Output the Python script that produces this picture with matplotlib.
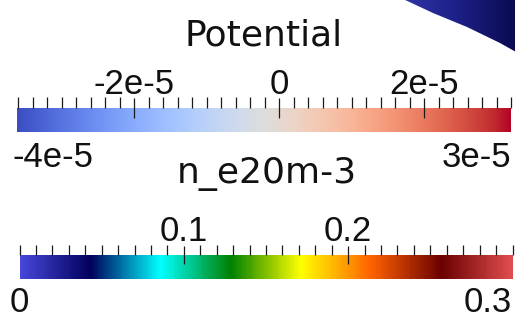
import numpy as np
import matplotlib
matplotlib.use("Agg")
import matplotlib.pyplot as plt
from matplotlib.colors import Normalize, LinearSegmentedColormap
from matplotlib.cm import ScalarMappable
from matplotlib.ticker import FixedLocator, MultipleLocator
from matplotlib.patches import Polygon

# potential scalar bar
pot_title = "Potential"
pot_range = (-3.62e-5, 3.2e-5)
pot_major = [-2e-5, 0.0, 2e-5]
pot_minor_step = 2e-6

# electron density scalar bar
ne_title = "n_e20m-3"
ne_range = (0.0, 0.3)
ne_major = [0.1, 0.2]
ne_minor_step = 0.01

# paraview "Rainbow Desaturated" control points
rainbow_desat = [
    (0.278431, 0.278431, 0.858824),
    (0.0, 0.0, 0.360784),
    (0.0, 1.0, 1.0),
    (0.0, 0.501961, 0.0),
    (1.0, 1.0, 0.0),
    (1.0, 0.380392, 0.0),
    (0.419608, 0.0, 0.0),
    (0.878431, 0.301961, 0.301961),
]
rainbow_cmap = LinearSegmentedColormap.from_list("rainbow_desat", rainbow_desat)

num_font = "Liberation Sans"
title_font = "DejaVu Sans"


def sci_label(v):
    if v == 0:
        return "0"
    m, e = f"{v:.0e}".split("e")
    return f"{m}e{int(e)}"


def dec_label(v):
    return f"{v:g}"


fig = plt.figure(figsize=(5.15, 3.21), dpi=100)
fig.patch.set_facecolor("white")

# pixel-space overlay for titles, range labels and the surface corner
bg = fig.add_axes([0, 0, 1, 1], zorder=0)
bg.set_xlim(0, 515)
bg.set_ylim(321, 0)
bg.axis("off")

# corner of the rendered surface
edge = Polygon([(403, -1), (433, 13), (467, 27), (500, 43), (516, 52), (516, -1)],
               closed=True, facecolor="none", edgecolor="none")
bg.add_patch(edge)
grad = np.linspace(0, 1, 64)[None, :]
corner_cmap = LinearSegmentedColormap.from_list("corner", ["#3137a8", "#1c1f86", "#0a0b50"])
img = bg.imshow(grad, cmap=corner_cmap, extent=(400, 516, 56, -1), aspect="auto",
                interpolation="bilinear")
img.set_clip_path(edge)
bg.set_xlim(0, 515)
bg.set_ylim(321, 0)


def scalar_bar(rect, cmap, vrange, major, minor_step, fmt, maj_len, min_len):
    cax = fig.add_axes(rect, zorder=2)
    sm = ScalarMappable(norm=Normalize(*vrange), cmap=cmap)
    cb = fig.colorbar(sm, cax=cax, orientation="horizontal", ticklocation="top")
    cb.outline.set_visible(False)
    cax.xaxis.set_major_locator(FixedLocator(major))
    cax.xaxis.set_minor_locator(MultipleLocator(minor_step))
    cax.set_xticklabels([fmt(v) for v in major])
    cax.tick_params(axis="x", which="major", direction="inout", length=maj_len,
                    width=0.9, color="#1a1a1a", pad=-2, labelsize=25,
                    top=True, bottom=False, labeltop=True, labelbottom=False)
    cax.tick_params(axis="x", which="minor", direction="out", length=min_len,
                    width=0.9, color="#1a1a1a", top=True, bottom=False)
    for lab in cax.get_xticklabels():
        lab.set_fontfamily(num_font)
        lab.set_color("#111111")
    return cax


scalar_bar([16.7 / 515, (321 - 132.3) / 321, 494.3 / 515, 24 / 321],
           "coolwarm", pot_range, pot_major, pot_minor_step, sci_label, 15, 8)
scalar_bar([19.5 / 515, (321 - 278.7) / 321, 493 / 515, 24 / 321],
           rainbow_cmap, ne_range, ne_major, ne_minor_step, dec_label, 13.5, 7)

# titles
bg.text(264, 46, pot_title, ha="center", va="baseline", fontsize=26,
        family=title_font, color="#111111")
bg.text(267, 183, ne_title, ha="center", va="baseline", fontsize=26,
        family=title_font, color="#111111")

# range labels under each bar
bg.text(13, 167, sci_label(pot_range[0]), ha="left", va="baseline", fontsize=25,
        family=num_font, color="#111111")
bg.text(511.5, 167, sci_label(pot_range[1]), ha="right", va="baseline", fontsize=25,
        family=num_font, color="#111111")
bg.text(10, 312, dec_label(ne_range[0]), ha="left", va="baseline", fontsize=25,
        family=num_font, color="#111111")
bg.text(511.5, 312, dec_label(ne_range[1]), ha="right", va="baseline", fontsize=25,
        family=num_font, color="#111111")

fig.savefig("out.png", dpi=100)
